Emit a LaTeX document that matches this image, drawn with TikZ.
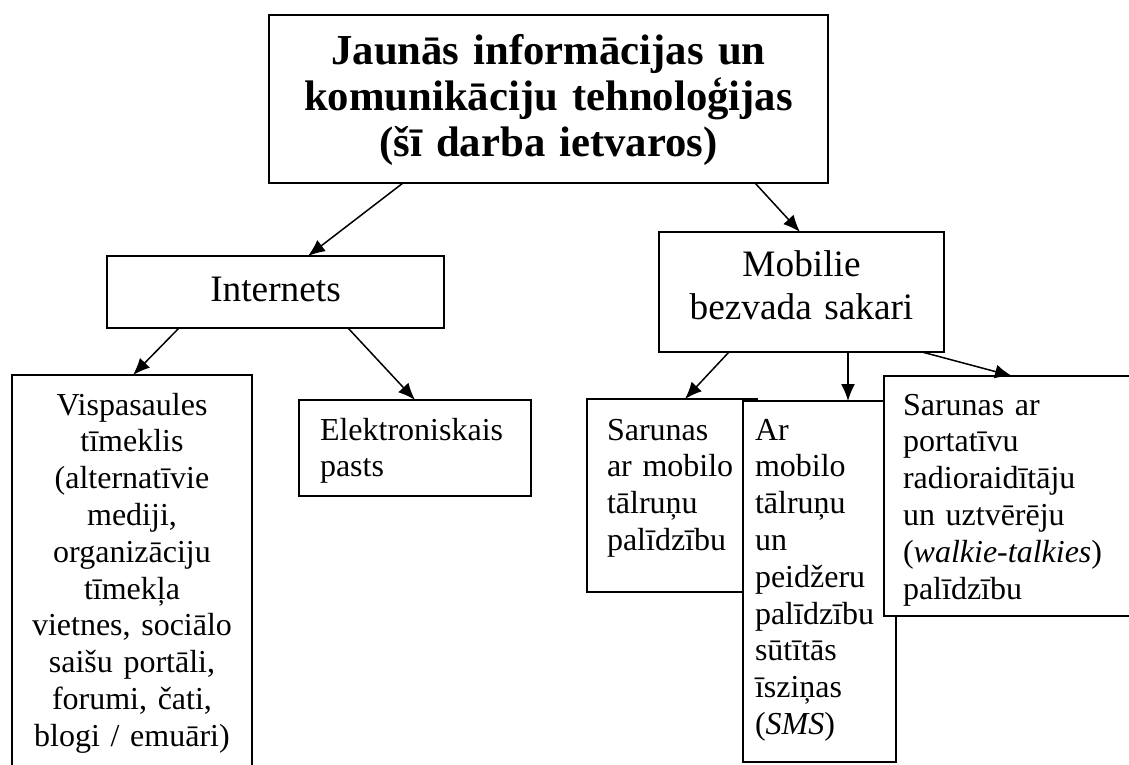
\documentclass[tikz,border=0pt]{standalone}
\usepackage{fontspec}
\setmainfont{Liberation Serif}
\usepackage{tikz}
\usetikzlibrary{arrows.meta}
\newcommand\bodysize{\fontsize{32}{36.8}\selectfont}
\newcommand\midsize{\fontsize{37.3}{43}\selectfont}
\newcommand\titlesize{\fontsize{42.7}{46}\selectfont\bfseries}
\tikzset{
    box/.style={draw, line width=2pt, fill=white, anchor=north west,
        outer sep=0pt, inner ysep=0pt, align=left, font=\bodysize},
    link/.style={-{Latex[length=17pt,width=14pt]}, line width=1.5pt}
}
\begin{document}
\begin{tikzpicture}[x=1pt, y=-1pt]
    \useasboundingbox (0,0) rectangle (1129,765);
    \clip (0,0) rectangle (1129,765);
    % top level
    \node[box, align=center, font=\titlesize, inner xsep=10pt, text width=539pt,
        text height=50pt, text depth=118pt] (title) at (269,15)
        {Jaunās informācijas un\\komunikāciju tehnoloģijas\\(šī darba ietvaros)};
    % second level
    \node[box, align=center, font=\midsize, inner xsep=10pt, text width=317pt,
        text height=45.7pt, text depth=26.3pt] (inet) at (107,256) {Internets};
    \node[box, align=center, font=\midsize, inner xsep=10pt, text width=265pt,
        text height=44.7pt, text depth=75.3pt] (mob) at (659,232)
        {Mobilie\\bezvada sakari};
    % internet leaves
    \node[box, align=center, inner xsep=19pt, text width=202pt,
        text height=40pt, text depth=420pt] (www) at (12,375)
        {Vispasaules\\tīmeklis\\(alternatīvie\\mediji,\\organizāciju\\tīmekļa\\vietnes, sociālo\\saišu portāli,\\forumi, čati,\\blogi / emuāri)};
    \node[box, inner xsep=21pt, text width=190pt,
        text height=40pt, text depth=56pt] (mail) at (299,400)
        {Elektroniskais\\pasts};
    % mobile leaves
    \node[box, inner xsep=20pt, text width=130pt,
        text height=41pt, text depth=152pt] (talk) at (587,399)
        {Sarunas\\ar mobilo\\tālruņu\\palīdzību};
    \node[box, inner xsep=12pt, text width=129pt,
        text height=39pt, text depth=322pt] (sms) at (743,401)
        {Ar\\mobilo\\tālruņu\\un\\peidžeru\\palīdzību\\sūtītās\\īsziņas\\(\textit{SMS})};
    \node[box, inner xsep=19pt, text width=232pt,
        text height=39pt, text depth=201pt] (radio) at (884,376)
        {Sarunas ar\\portatīvu\\radioraidītāju\\un uztvērēju\\(\textit{walkie-talkies})\\palīdzību};
    % arrows
    \draw[link] ([xshift=134pt]title.south west) -- ([xshift=201pt]inet.north west);
    \draw[link] ([xshift=486pt]title.south west) -- ([xshift=141pt]mob.north west);
    \draw[link] ([xshift=72pt]inet.south west) -- ([xshift=121pt]www.north west);
    \draw[link] ([xshift=241pt]inet.south west) -- ([xshift=116pt]mail.north west);
    \draw[link] ([xshift=70pt]mob.south west) -- ([xshift=98pt]talk.north west);
    \draw[link] ([xshift=189pt]mob.south west) -- ([xshift=105pt]sms.north west);
    \draw[link] ([xshift=263pt]mob.south west) -- ([xshift=128pt]radio.north west);
\end{tikzpicture}
\end{document}
